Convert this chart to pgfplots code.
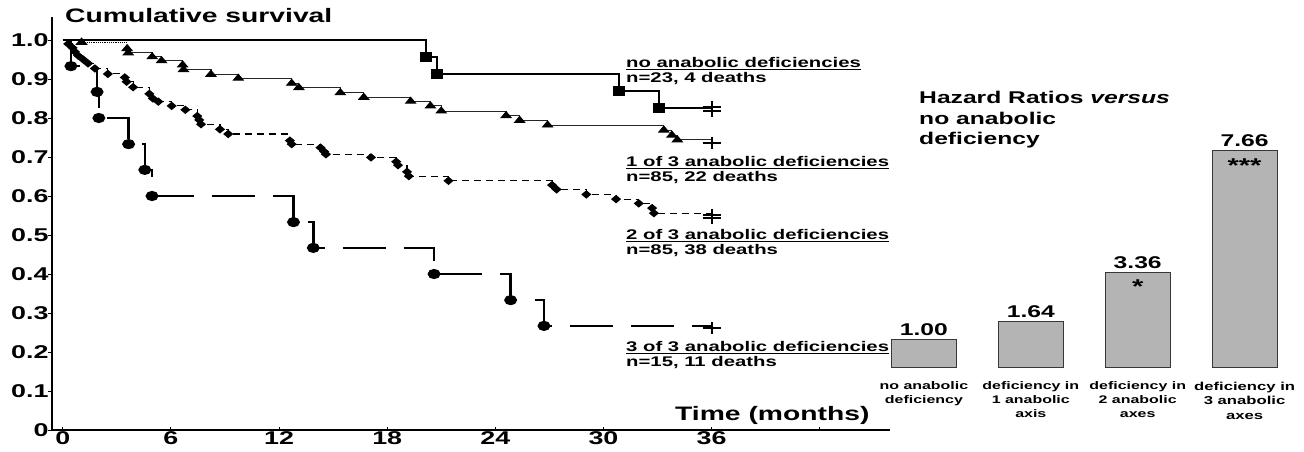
\documentclass[border=0pt]{standalone}
\usepackage{fontspec}
\setmainfont{Liberation Sans}[FakeStretch=1.45]
\usepackage{pgfplots}
\pgfplotsset{compat=1.18}
\definecolor{barfill}{RGB}{180,180,180}
\definecolor{baredge}{RGB}{55,55,55}
\newcommand\fs[2]{\fontsize{#1}{#2}\selectfont\bfseries}

\begin{document}
\begin{tikzpicture}
% Kaplan-Meier curves
\begin{axis}[
  at={(0pt,0pt)}, anchor=south west,
  scale only axis, width=838pt, height=413pt,
  xmin=-0.6, xmax=45.9, ymin=0, ymax=1.059,
  axis x line*=bottom, axis y line*=left,
  axis line style={line width=1.2pt},
  xtick={0,6,12,18,24,30,36,42},
  xticklabels={0,6,12,18,24,30,36,{}},
  ytick={0,0.1,0.2,0.3,0.4,0.5,0.6,0.7,0.8,0.9,1.0},
  yticklabels={\raisebox{-5pt}{0},0.1,0.2,0.3,0.4,0.5,0.6,0.7,0.8,0.9,1.0},
  tick align=inside, major tick length=3.5pt,
  tick style={line width=1pt, black},
  ytick style={xshift=-3.5pt},
  tick label style={font=\fs{18.5}{18.5}},
  xticklabel style={yshift=1.5pt},
  clip=false,
]
% no anabolic deficiencies
\addplot[const plot, line width=2pt, mark=square*, mark size=4pt,
  mark indices={2,3,4,5}, mark options={xscale=1.3}] coordinates {
  (0,1.0)(20.15,0.957)(20.75,0.913)(30.85,0.870)(33.07,0.826)(36,0.826)};
% 1 of 3 anabolic deficiencies
\addplot[const plot, line width=1.2pt, densely dotted, mark=triangle*, mark size=4pt,
  mark indices={2}, mark options={solid, xscale=1.45}] coordinates {
  (0,1.0)(1.04,0.994)(3.57,0.994)};
\addplot[const plot, line width=0.9pt, black!85, mark=triangle*, mark size=4pt,
  mark indices={1,...,21}, mark options={black, xscale=1.45}] coordinates {
  (3.57,0.978)(3.63,0.967)(4.96,0.957)(5.48,0.947)(6.65,0.936)(6.7,0.924)
  (8.22,0.912)(9.74,0.902)(12.7,0.889)(13.1,0.878)(15.4,0.865)(16.7,0.853)
  (19.3,0.843)(20.4,0.831)(21.0,0.818)(24.6,0.806)(25.35,0.794)(26.9,0.782)
  (33.35,0.769)(33.8,0.756)(34.1,0.744)(36,0.744)};
% 2 of 3 anabolic deficiencies
\addplot[const plot, line width=1.1pt, dash pattern=on 7pt off 5pt, mark=diamond*,
  mark size=3.5pt, mark indices={2,...,40}, mark options={solid, xscale=1.6}] coordinates {
  (0,1.0)(0.3,0.99)(0.54,0.98)(0.67,0.97)(0.85,0.96)(1.13,0.95)(1.4,0.94)
  (1.78,0.927)(2.5,0.913)(3.44,0.904)(3.54,0.893)(3.9,0.879)(4.8,0.862)
  (5.0,0.850)(5.3,0.842)(6.04,0.831)(6.8,0.821)(7.46,0.805)(7.57,0.795)
  (7.67,0.784)(8.72,0.771)(9.18,0.759)(12.6,0.742)(12.7,0.733)(14.3,0.724)
  (14.5,0.714)(14.6,0.707)(17.1,0.699)(18.5,0.688)(18.6,0.679)(19.1,0.662)
  (19.2,0.651)(21.4,0.639)(27.15,0.628)(27.4,0.617)(29.05,0.604)(30.7,0.592)
  (31.96,0.581)(32.7,0.569)(32.8,0.556)(36,0.556)};
% 3 of 3 anabolic deficiencies
\addplot[const plot, line width=2.5pt, dash pattern=on 43pt off 18pt, mark=*,
  mark size=3.8pt, mark indices={2,...,12}, mark options={solid, xscale=1.35}] coordinates {
  (0,1.0)(0.45,0.933)(1.9,0.867)(2.0,0.8)(3.65,0.733)(4.55,0.667)(4.95,0.6)
  (12.8,0.533)(13.9,0.467)(20.6,0.4)(24.85,0.333)(26.7,0.267)(36,0.267)};
% censored
\addplot[only marks, mark=+, mark size=6pt, mark options={xscale=1.5, line width=2pt}]
  coordinates {(36,0.828)(36,0.819)(36,0.737)(36,0.552)(36,0.543)(36,0.262)};
\end{axis}

% hazard ratios
\begin{axis}[
  at={(818.45pt,62.3pt)}, anchor=south west,
  scale only axis, width=427.6pt, height=227.2pt,
  xmin=0.5, xmax=4.5, ymin=0, ymax=8,
  axis lines=none, ybar, bar width=65pt, clip=false,
  nodes near coords={\pgfmathprintnumber[fixed,fixed zerofill,precision=2,assume math mode=true]{\pgfplotspointmeta}},
  every node near coord/.append style={font=\fs{17}{17}},
]
\addplot[fill=barfill, draw=baredge, line width=1.2pt] coordinates {(1,1.00)(2,1.64)(3,3.36)(4,7.66)};
\node[font=\fs{20}{20}, anchor=north, inner sep=0pt, yshift=-7pt] at (axis cs:3,3.36) {*};
\node[font=\fs{20}{20}, anchor=north, inner sep=0pt, yshift=-8pt] at (axis cs:4,7.66) {***};
\node[font=\fs{11}{14}, align=center, anchor=north, inner sep=0pt, yshift=-14pt] at (axis cs:1,0) {no anabolic\\deficiency};
\node[font=\fs{11}{14}, align=center, anchor=north, inner sep=0pt, yshift=-14pt] at (axis cs:2,0) {deficiency in\\1 anabolic\\axis};
\node[font=\fs{11}{14}, align=center, anchor=north, inner sep=0pt, yshift=-14pt] at (axis cs:3,0) {deficiency in\\2 anabolic\\axes};
\node[font=\fs{11.5}{14.5}, align=center, anchor=north, inner sep=0pt, yshift=-14pt] at (axis cs:4,0) {deficiency in\\3 anabolic\\axes};
\end{axis}

% texts
\node[anchor=base west, inner sep=0pt, font=\fs{19.5}{19.5}] at (13pt,407pt) {Cumulative survival};
\node[anchor=base west, inner sep=0pt, font=\fs{19.5}{19.5}] at (623pt,10pt) {Time (months)};
\node[anchor=north west, inner sep=0pt, align=left, font=\fs{17}{20.5}] at (867pt,339pt)
  {Hazard Ratios \textit{versus}\\no anabolic\\deficiency};
\node[anchor=north west, inner sep=0pt, align=left, font=\fs{14}{14.5}] at (574pt,372.5pt)
  {\underline{no anabolic deficiencies}\\n=23, 4 deaths};
\node[anchor=north west, inner sep=0pt, align=left, font=\fs{14}{14.5}] at (574pt,273.5pt)
  {\underline{1 of 3 anabolic deficiencies}\\n=85, 22 deaths};
\node[anchor=north west, inner sep=0pt, align=left, font=\fs{14}{14.5}] at (574pt,200.5pt)
  {\underline{2 of 3 anabolic deficiencies}\\n=85, 38 deaths};
\node[anchor=north west, inner sep=0pt, align=left, font=\fs{14}{14.5}] at (574pt,88.5pt)
  {\underline{3 of 3 anabolic deficiencies}\\n=15, 11 deaths};

\pgfresetboundingbox
\path[use as bounding box] (-52pt,-21pt) rectangle (1252pt,430pt);
\end{tikzpicture}
\end{document}
